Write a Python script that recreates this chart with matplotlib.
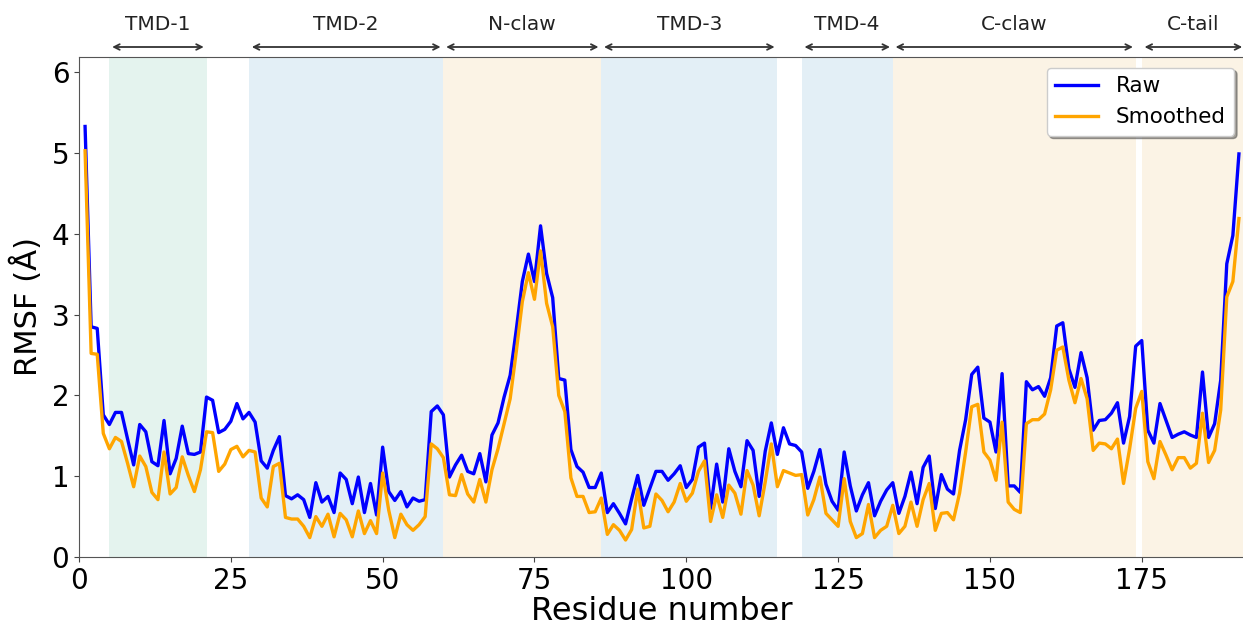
import matplotlib
matplotlib.use("Agg")
import matplotlib.pyplot as plt
import numpy as np

# RMSF per residue (Å)
raw_rmsf = [
    5.33, 2.85, 2.83, 1.76, 1.64, 1.79, 1.79, 1.46, 1.14, 1.64,
    1.55, 1.18, 1.13, 1.69, 1.03, 1.22, 1.62, 1.28, 1.27, 1.30,
    1.98, 1.94, 1.54, 1.58, 1.68, 1.90, 1.71, 1.79, 1.67, 1.19,
    1.10, 1.32, 1.49, 0.76, 0.72, 0.77, 0.71, 0.49, 0.92, 0.68,
    0.75, 0.55, 1.04, 0.96, 0.66, 0.99, 0.55, 0.91, 0.52, 1.36,
    0.81, 0.70, 0.81, 0.62, 0.73, 0.69, 0.71, 1.80, 1.87, 1.76,
    0.99, 1.14, 1.26, 1.06, 1.03, 1.28, 0.93, 1.51, 1.66, 1.98,
    2.25, 2.81, 3.41, 3.75, 3.41, 4.10, 3.51, 3.21, 2.21, 2.19,
    1.33, 1.12, 1.05, 0.86, 0.86, 1.04, 0.55, 0.66, 0.54, 0.41,
    0.72, 1.01, 0.64, 0.85, 1.06, 1.06, 0.95, 1.03, 1.13, 0.86,
    0.96, 1.36, 1.41, 0.60, 1.15, 0.68, 1.34, 1.06, 0.87, 1.44,
    1.32, 0.75, 1.31, 1.66, 1.27, 1.60, 1.40, 1.38, 1.30, 0.85,
    1.06, 1.33, 0.90, 0.69, 0.58, 1.30, 0.88, 0.57, 0.77, 0.92,
    0.51, 0.69, 0.83, 0.92, 0.54, 0.75, 1.05, 0.66, 1.11, 1.25,
    0.60, 1.02, 0.84, 0.78, 1.32, 1.70, 2.26, 2.35, 1.72, 1.67,
    1.30, 2.27, 0.88, 0.88, 0.80, 2.17, 2.07, 2.11, 1.99, 2.22,
    2.86, 2.90, 2.33, 2.10, 2.53, 2.22, 1.57, 1.69, 1.70, 1.78,
    1.91, 1.41, 1.74, 2.61, 2.68, 1.57, 1.41, 1.90, 1.69, 1.48,
    1.52, 1.55, 1.51, 1.48, 2.29, 1.48, 1.65, 2.19, 3.63, 3.98,
    4.99,
]
smoothed_rmsf = [
    5.03, 2.52, 2.51, 1.53, 1.34, 1.48, 1.43, 1.16, 0.87, 1.25,
    1.12, 0.80, 0.71, 1.30, 0.78, 0.86, 1.24, 1.01, 0.81, 1.08,
    1.55, 1.54, 1.06, 1.15, 1.33, 1.37, 1.24, 1.32, 1.30, 0.73,
    0.62, 1.12, 1.16, 0.49, 0.47, 0.47, 0.38, 0.24, 0.50, 0.38,
    0.53, 0.25, 0.54, 0.46, 0.25, 0.57, 0.29, 0.45, 0.29, 1.04,
    0.58, 0.24, 0.53, 0.40, 0.33, 0.40, 0.50, 1.40, 1.34, 1.23,
    0.77, 0.76, 1.02, 0.78, 0.68, 0.96, 0.68, 1.08, 1.34, 1.65,
    1.96, 2.54, 3.16, 3.52, 3.19, 3.79, 3.14, 2.85, 2.00, 1.80,
    0.98, 0.75, 0.75, 0.55, 0.56, 0.73, 0.28, 0.40, 0.33, 0.21,
    0.34, 0.84, 0.36, 0.38, 0.78, 0.70, 0.56, 0.68, 0.91, 0.69,
    0.79, 1.06, 1.19, 0.44, 0.77, 0.49, 0.89, 0.79, 0.53, 1.07,
    0.89, 0.51, 0.93, 1.40, 0.87, 1.07, 1.04, 1.01, 1.02, 0.52,
    0.71, 0.99, 0.54, 0.46, 0.38, 0.97, 0.44, 0.24, 0.29, 0.65,
    0.24, 0.33, 0.38, 0.64, 0.29, 0.38, 0.68, 0.38, 0.71, 0.91,
    0.33, 0.54, 0.55, 0.46, 0.79, 1.30, 1.86, 1.89, 1.30, 1.20,
    0.95, 1.67, 0.68, 0.59, 0.55, 1.65, 1.70, 1.70, 1.77, 2.07,
    2.56, 2.60, 2.19, 1.91, 2.21, 1.96, 1.32, 1.41, 1.40, 1.34,
    1.46, 0.91, 1.34, 1.84, 2.05, 1.18, 0.97, 1.43, 1.26, 1.08,
    1.23, 1.23, 1.10, 1.16, 1.78, 1.17, 1.32, 1.82, 3.22, 3.41,
    4.19,
]
residues = np.arange(1, len(raw_rmsf) + 1)

# domain boundaries (residue numbers)
domain_names = ["TMD-1", "TMD-2", "N-claw", "TMD-3", "TMD-4", "C-claw", "C-tail"]
domain_starts = [5, 28, 60, 86, 119, 134, 175]
domain_ends = [21, 60, 86, 115, 134, 174, 192]
domain_colors = ["#e4f3ee", "#e3eff6", "#fbf3e5", "#e3eff6", "#e3eff6", "#fbf3e5", "#fbf3e5"]

fig = plt.figure(figsize=(12.43, 6.27), dpi=100)
ax = fig.add_axes([79 / 1243, 70 / 627, 1166 / 1243, 500 / 627])

for start, end, col in zip(domain_starts, domain_ends, domain_colors):
    ax.axvspan(start, end, color=col, lw=0, zorder=0)

ax.plot(residues, raw_rmsf, color="blue", lw=2.4, label="Raw")
ax.plot(residues, smoothed_rmsf, color="orange", lw=2.4, label="Smoothed")

ax.set_xlim(0, 192)
ax.set_ylim(0, 6.19)
ax.set_xticks([0, 25, 50, 75, 100, 125, 150, 175])
ax.set_yticks([0, 1, 2, 3, 4, 5, 6])
ax.tick_params(labelsize=20, color="#444444")
for sp in ax.spines.values():
    sp.set_color("#555555")

ax.set_xlabel("Residue number", fontsize=23, labelpad=1)
ax.set_ylabel("RMSF (Å)", fontsize=22, labelpad=6)

# domain arrows above the plot
for name, start, end in zip(domain_names, domain_starts, domain_ends):
    ax.annotate("", xy=(start, 1.02), xytext=(end, 1.02),
                xycoords=("data", "axes fraction"),
                arrowprops=dict(arrowstyle="<->", color="#333333", lw=1.3),
                annotation_clip=False)
    ax.text((start + end) / 2, 1.066, name, transform=ax.get_xaxis_transform(),
            ha="center", va="center", fontsize=14.5, color="#222222")

ax.legend(loc="upper right", fontsize=15.5, fancybox=True, shadow=True,
          framealpha=1, borderaxespad=0.5)

fig.savefig("out.png", dpi=100)
